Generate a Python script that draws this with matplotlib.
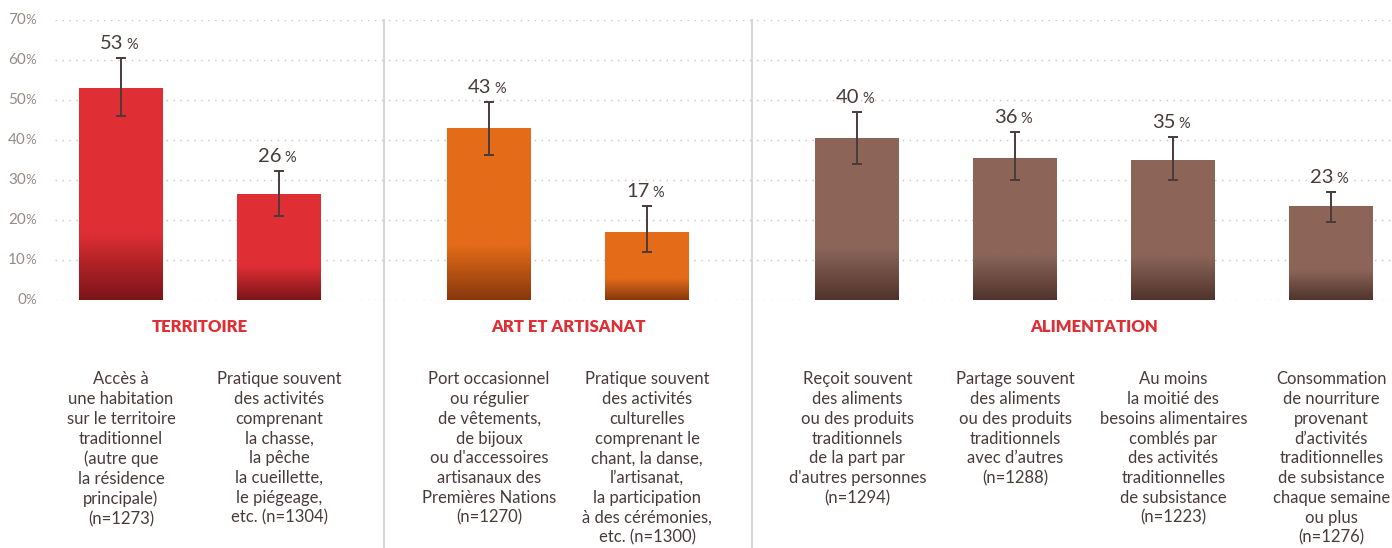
import numpy as np
from matplotlib import pyplot as plt
from matplotlib.colors import LinearSegmentedColormap

plt.rcParams['font.family'] = ['Lato', 'DejaVu Sans']

GROUPS = ["TERRITOIRE", "ART ET ARTISANAT", "ALIMENTATION"]
GROUP_SIZES = [2, 2, 4]
GROUP_COLORS = [("#e02f34", "#7a1418"), ("#e46c19", "#86380c"), ("#8c6558", "#50342d")]

values = [53, 26.3, 42.8, 17, 40.3, 35.5, 35, 23.3]
value_labels = ["53", "26", "43", "17", "40", "36", "35", "23"]
err_top = [60.5, 32.3, 49.4, 23.5, 47, 42.1, 40.8, 27]
err_bottom = [46, 21, 36.3, 12, 34.1, 30, 30, 19.6]
descriptions = [
    "Accès à\nune habitation\nsur le territoire\ntraditionnel\n(autre que\nla résidence\nprincipale)\n(n=1273)",
    "Pratique souvent\ndes activités\ncomprenant\nla chasse,\nla pêche\nla cueillette,\nle piégeage,\netc. (n=1304)",
    "Port occasionnel\nou régulier\nde vêtements,\nde bijoux\nou d'accessoires\nartisanaux des\nPremières Nations\n(n=1270)",
    "Pratique souvent\ndes activités\nculturelles\ncomprenant le\nchant, la danse,\nl’artisanat,\nla participation\nà des cérémonies,\netc. (n=1300)",
    "Reçoit souvent\ndes aliments\nou des produits\ntraditionnels\nde la part par\nd'autres personnes\n(n=1294)",
    "Partage souvent\ndes aliments\nou des produits\ntraditionnels\navec d’autres\n(n=1288)",
    "Au moins\nla moitié des\nbesoins alimentaires\ncomblés par\ndes activités\ntraditionnelles\nde subsistance\n(n=1223)",
    "Consommation\nde nourriture\nprovenant\nd’activités\ntraditionnelles\nde subsistance\nchaque semaine\nou plus\n(n=1276)",
]
yticks = [0, 10, 20, 30, 40, 50, 60, 70]

TEXT = "#4a3b3b"
GRID = "#c9c4c2"

# bar positions: step 1 inside a group, wider gap between groups
gap = 1.33
xs, colors, group_idx = [], [], []
pos = 0
for g, n in enumerate(GROUP_SIZES):
    first = len(xs)
    for i in range(n):
        xs.append(pos)
        colors.append(GROUP_COLORS[g])
        pos += 1
    group_idx.append((first, len(xs) - 1))
    pos += gap - 1
width = 0.53

fig = plt.figure(figsize=(13.92, 5.48), dpi=100)
ax = fig.add_axes([55 / 1392, 248 / 548, 1 - 55 / 1392, 280 / 548])

grad = np.linspace(0, 1, 256).reshape(-1, 1)
for x, v, (base, dark) in zip(xs, values, colors):
    cmap = LinearSegmentedColormap.from_list("g", [(0, dark), (0.32, base), (1, base)])
    ax.imshow(grad, cmap=cmap, origin="lower", aspect="auto",
              extent=[x - width / 2, x + width / 2, 0, v], zorder=2)

lo = np.array(values) - np.array(err_bottom)
hi = np.array(err_top) - np.array(values)
ax.errorbar(xs, values, yerr=[lo, hi], fmt="none", ecolor=TEXT,
            elinewidth=1.4, capsize=3.6, capthick=1.4, zorder=3)

for x, top, lab in zip(xs, err_top, value_labels):
    ax.annotate(lab, (x, top), xytext=(2, 9), textcoords="offset pixels",
                ha="right", va="baseline", fontsize=14.5, color=TEXT)
    ax.annotate("%", (x, top), xytext=(5, 9), textcoords="offset pixels",
                ha="left", va="baseline", fontsize=10.5, color=TEXT)

for y in yticks:
    ax.axhline(y, color=GRID, lw=1, ls=(0, (1, 4)), zorder=1)
    ax.annotate(str(y), (0, y), xycoords=ax.get_yaxis_transform(),
                xytext=(-29, 0), textcoords="offset pixels",
                ha="right", va="center", fontsize=11, color="#968a87")
    ax.annotate("%", (0, y), xycoords=ax.get_yaxis_transform(),
                xytext=(-30, 0), textcoords="offset pixels",
                ha="left", va="center", fontsize=9.5, color="#968a87")

# vertical separators between groups
for (a, b), (c, d) in zip(group_idx[:-1], group_idx[1:]):
    sx = (xs[b] + xs[c]) / 2
    ax.plot([sx, sx], [70, -62], color="#dcd5d2", lw=1.5, clip_on=False, zorder=1)

for name, (a, b) in zip(GROUPS, group_idx):
    ax.text((xs[a] + xs[b]) / 2, -6.75, name, ha="center", va="center",
            fontsize=12, fontweight="heavy", color="#e02f34")

for x, desc in zip(xs, descriptions):
    ax.text(x, -17.8, desc, ha="center", va="top", fontsize=12,
            color=TEXT, linespacing=1.29)

ax.set_xlim(-0.4177, 8.044)
ax.set_ylim(0, 70)
for s in ax.spines.values():
    s.set_visible(False)
ax.set_xticks([])
ax.set_yticks([])

fig.savefig("out.png", dpi=100)
